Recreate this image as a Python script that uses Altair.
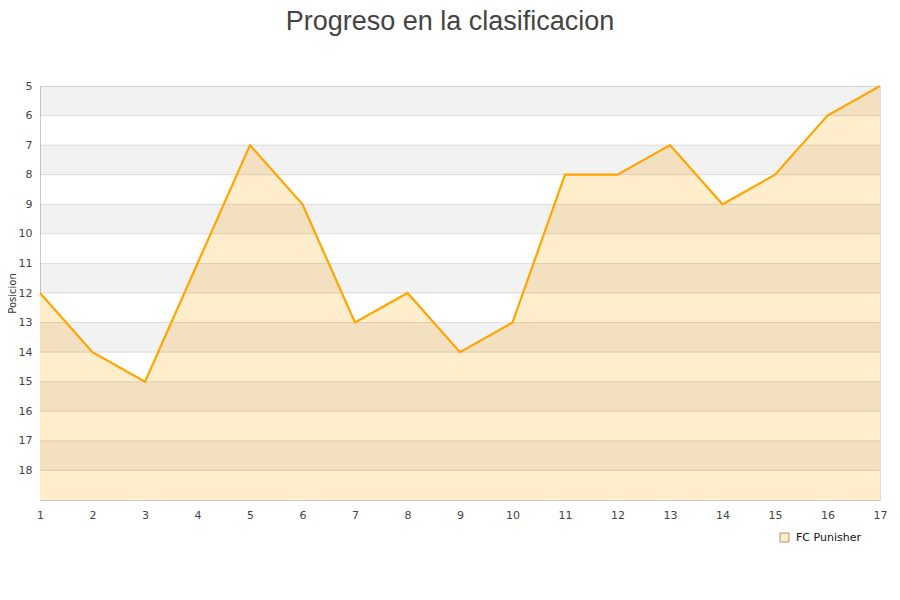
import altair as alt
import pandas as pd

jornadas = list(range(1, 18))
posiciones = [12, 14, 15, 11, 7, 9, 13, 12, 14, 13, 8, 8, 7, 9, 8, 6, 5]
equipo = "FC Punisher"
band_starts = [5, 7, 9, 11, 13, 15, 17]
grid_values = list(range(6, 19))
y_labels = list(range(5, 19))

df = pd.DataFrame({"jornada": jornadas, "posicion": posiciones, "equipo": [equipo] * len(jornadas)})
bands = pd.DataFrame({"y0": band_starts, "y1": [b + 1 for b in band_starts]})
grid = pd.DataFrame({"y": grid_values})

FONT = "DejaVu Sans"
xscale = alt.Scale(domain=[1, 17], nice=False, zero=False)
yscale = alt.Scale(domain=[5, 19], reverse=True, nice=False, zero=False)

xaxis = alt.Axis(values=jornadas, ticks=False, grid=False, domain=True, domainColor="#cccccc",
                 labelColor="#444444", labelFontSize=11, labelFont=FONT, labelPadding=9, title=None,
                 labelFlush=False, labelOverlap=False, format="d")
yaxis = alt.Axis(values=y_labels, ticks=False, grid=False, domain=True, domainColor="#cccccc",
                 labelColor="#444444", labelFontSize=11, labelFont=FONT, labelPadding=8,
                 labelOverlap=False, labelFlush=False,
                 title="Posicion", titleFont=FONT, titleFontSize=10, titleFontWeight="normal",
                 titleColor="#333333", titlePadding=1, format="d")

area = alt.Chart(df).mark_area(opacity=1, interpolate="linear").encode(
    x=alt.X("jornada:Q", scale=xscale, axis=xaxis),
    y=alt.Y("posicion:Q", scale=yscale, axis=yaxis),
    y2=alt.datum(19),
    fill=alt.Fill("equipo:N", scale=alt.Scale(range=["#FFEDCC"]),
                  legend=alt.Legend(title=None, orient="none", legendX=739, legendY=446,
                                    symbolType="square", symbolSize=80, symbolStrokeColor="#a89878",
                                    symbolStrokeWidth=1, labelFont=FONT, labelFontSize=11,
                                    labelColor="#111111", labelOffset=6)),
)

band_layer = alt.Chart(bands).mark_rect(color="#000000", opacity=0.05).encode(
    y=alt.Y("y0:Q", scale=yscale, axis=yaxis),
    y2="y1:Q",
)

grid_layer = alt.Chart(grid).mark_rule(color="#000000", opacity=0.11, strokeWidth=1).encode(
    y=alt.Y("y:Q", scale=yscale, axis=yaxis),
)

line = alt.Chart(df).mark_line(color="#FFA500", strokeWidth=2.2, interpolate="linear").encode(
    x=alt.X("jornada:Q", scale=xscale, axis=xaxis),
    y=alt.Y("posicion:Q", scale=yscale, axis=yaxis),
)

chart = alt.layer(area, band_layer, grid_layer, line).properties(
    width=840,
    height=414,
    title=alt.TitleParams("Progreso en la clasificacion", font="Liberation Sans", fontSize=27,
                          fontWeight="normal", color="#444444", anchor="middle", offset=44, dx=-10),
    padding={"left": 32, "top": 78, "right": 12, "bottom": 80},
    autosize="none",
).configure_view(stroke="#dddddd", strokeWidth=1)

chart.save("out.html", embed_options={"renderer": "svg", "actions": False})
